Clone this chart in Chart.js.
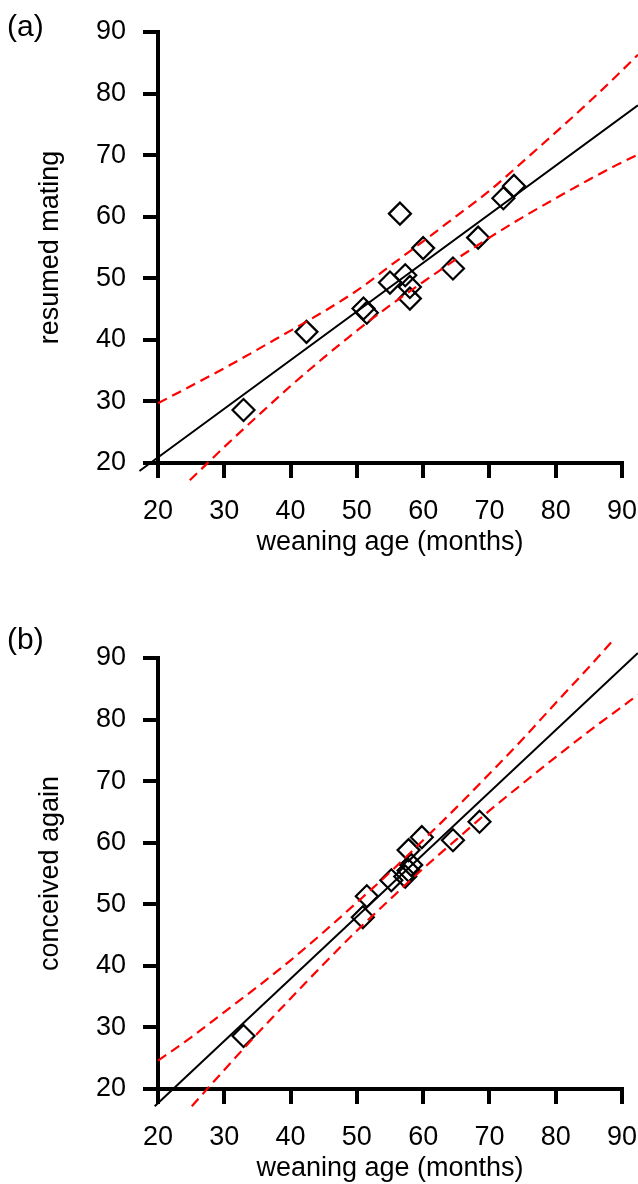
<!DOCTYPE html>
<html><head><meta charset="utf-8">
<script src="https://cdn.jsdelivr.net/npm/chart.js@4.4.1/dist/chart.umd.min.js"></script>
<style>
html,body{margin:0;padding:0;background:#fff;width:638px;height:1184px;overflow:hidden;}
canvas{position:absolute;left:0;}
#ca{top:0}
#cb{top:626px}
</style></head><body>
<canvas id="ca" width="638" height="558"></canvas>
<canvas id="cb" width="638" height="558"></canvas>
<script>
// ---- tick labels / titles ----
const xTicks = [20, 30, 40, 50, 60, 70, 80, 90];
const yTicks = [20, 30, 40, 50, 60, 70, 80, 90];
const xTitle = 'weaning age (months)';
const aYTitle = 'resumed mating';
const bYTitle = 'conceived again';

// ---- panel (a): resumed mating ----
const aWeanX = [32.9, 42.4, 51.0, 51.5, 55.0, 56.5, 57.3, 58.0, 58.0, 60.0, 64.5, 68.3, 72.1, 73.7];
const aMateY = [28.6, 41.3, 45.1, 44.4, 49.3, 60.5, 50.5, 48.6, 46.7, 54.9, 51.6, 56.6, 63.0, 65.0];
const aFitX = [17.2, 92.4];
const aFitY = [18.7, 78.1];
const aUpperX = [20, 30, 40, 45, 50, 55, 60, 65, 70, 75, 80, 85, 89, 92.4];
const aUpperY = [29.7, 35.4, 41.5, 44.6, 48.0, 52.0, 56.0, 60.1, 64.2, 68.9, 73.7, 78.6, 82.7, 86.3];
const aLowerX = [24.8, 30, 35, 40, 45, 50, 55, 60, 65, 70, 75, 80, 85, 89, 92.4];
const aLowerY = [17.2, 22.6, 27.6, 32.5, 37.1, 41.5, 45.6, 49.4, 53.1, 56.6, 59.9, 63.0, 66.0, 68.3, 70.1];

// ---- panel (b): conceived again ----
const bWeanX = [32.9, 50.9, 51.5, 55.2, 57.3, 57.8, 58.2, 57.8, 59.8, 64.5, 68.5];
const bConcY = [28.6, 47.9, 51.3, 53.9, 54.5, 55.5, 56.4, 58.8, 60.9, 60.4, 63.4];
const bFitX = [19.5, 92.4];
const bFitY = [17.2, 90.8];
const bUpperX = [20, 25, 30, 35, 40, 45, 50, 55, 60, 65, 70, 75, 80, 85, 88.6];
const bUpperY = [24.6, 28.4, 32.5, 36.6, 40.9, 45.5, 50.3, 55.2, 60.4, 65.7, 71.2, 76.8, 82.7, 88.5, 92.8];
const bLowerX = [25.1, 30, 35, 40, 45, 50, 55, 60, 65, 70, 75, 80, 85, 89, 92.4];
const bLowerY = [17.2, 23.1, 29.0, 34.7, 40.3, 45.7, 50.8, 55.8, 60.5, 65.2, 69.6, 73.9, 78.1, 81.3, 84.0];

const FAMILY = '"Liberation Sans", Arial, Helvetica, sans-serif';
const pts = (xs, ys) => xs.map((x, i) => ({x: x, y: ys[i]}));

const panelLabel = {
  id: 'panelLabel',
  afterDraw(chart, args, opts) {
    const ctx = chart.ctx;
    ctx.save();
    ctx.font = '30px ' + FAMILY;
    ctx.fillStyle = '#000';
    ctx.textAlign = 'left';
    ctx.textBaseline = 'middle';
    ctx.fillText(opts.text, opts.x, opts.y);
    ctx.restore();
  }
};

function lineSet(xs, ys, color, width, dash) {
  return {
    data: pts(xs, ys), showLine: true, pointRadius: 0, borderColor: color,
    borderWidth: width, borderDash: dash, fill: false, clip: false,
    cubicInterpolationMode: 'monotone'
  };
}

function makeChart(id, yTitle, label, labelY, px, py, fx, fy, ux, uy, lx, ly) {
  const tickFont = {family: FAMILY, size: 27};
  const titleFont = {family: FAMILY, size: 27, lineHeight: 1};
  const gridOpts = {display: true, drawOnChartArea: false, drawTicks: true, tickLength: 15,
                    lineWidth: 4, tickWidth: 4, color: '#000', tickColor: '#000'};
  const borderOpts = {display: true, color: '#000', width: 4};
  return new Chart(document.getElementById(id), {
    type: 'scatter',
    data: {
      datasets: [
        lineSet(fx, fy, '#000000', 2, []),
        lineSet(ux, uy, '#ff0000', 2.2, [10, 6]),
        lineSet(lx, ly, '#ff0000', 2.2, [10, 6]),
        {
          data: pts(px, py), showLine: false, pointStyle: 'rectRot', pointRadius: 11,
          pointBorderWidth: 2.2, pointBorderColor: '#000', pointBackgroundColor: 'rgba(0,0,0,0)'
        }
      ]
    },
    options: {
      responsive: false, animation: false, events: [], devicePixelRatio: 1,
      layout: {padding: {left: 0, right: 16, top: 32, bottom: 0}},
      plugins: {
        legend: {display: false}, tooltip: {enabled: false},
        panelLabel: {text: label, x: 7, y: labelY}
      },
      scales: {
        x: {
          type: 'linear', min: 20, max: 90,
          afterBuildTicks: s => { s.ticks = xTicks.map(v => ({value: v})); },
          afterFit: s => { s.height = 95; s.paddingLeft = 0; s.paddingRight = 0; },
          ticks: {color: '#000', font: tickFont, padding: 17, maxRotation: 0, autoSkip: false,
                  callback: v => String(v)},
          grid: gridOpts, border: borderOpts,
          title: {display: true, text: xTitle, color: '#000', font: titleFont,
                  padding: {top: 0, bottom: 1.5}}
        },
        y: {
          type: 'linear', min: 20, max: 90,
          afterBuildTicks: s => { s.ticks = yTicks.map(v => ({value: v})); },
          afterFit: s => { s.width = 158; s.paddingTop = 0; s.paddingBottom = 0; },
          ticks: {color: '#000', font: tickFont, padding: 17, autoSkip: false,
                  callback: v => String(v)},
          grid: gridOpts, border: borderOpts,
          title: {display: true, text: yTitle, color: '#000', font: titleFont,
                  padding: {top: 37.5, bottom: 0}}
        }
      }
    },
    plugins: [panelLabel]
  });
}

makeChart('ca', aYTitle, '(a)', 28, aWeanX, aMateY, aFitX, aFitY, aUpperX, aUpperY, aLowerX, aLowerY);
makeChart('cb', bYTitle, '(b)', 15, bWeanX, bConcY, bFitX, bFitY, bUpperX, bUpperY, bLowerX, bLowerY);
</script>
</body></html>
